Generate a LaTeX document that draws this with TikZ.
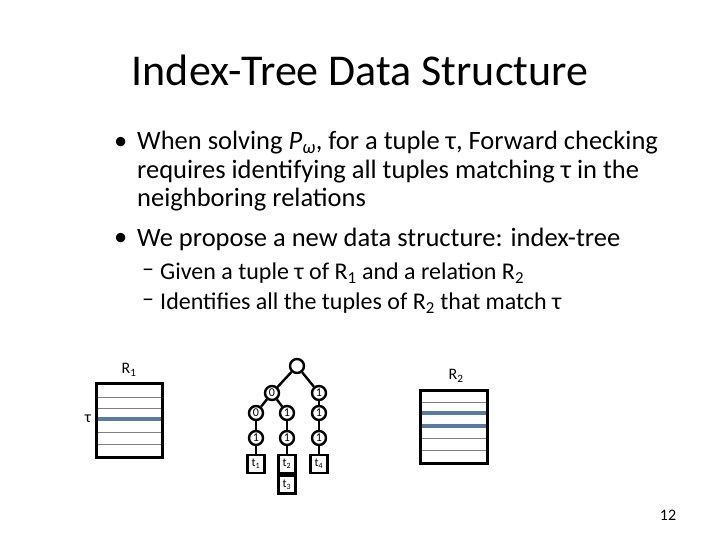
\documentclass[tikz,border=0pt]{standalone}
\usepackage{fontspec}
\setmainfont{Carlito}
\usetikzlibrary{positioning}
\definecolor{rowblue}{RGB}{91,122,160}
\tikzset{
  trie/.style={draw,circle,line width=2.4pt,inner sep=0pt,minimum size=14pt,font=\fontsize{12}{12}\selectfont},
  leaf/.style={draw,rectangle,line width=2.4pt,inner sep=0pt,minimum width=17pt,minimum height=18pt,font=\fontsize{12}{12}\selectfont},
  line/.style={anchor=west,inner sep=0pt,font=\fontsize{26.5}{28}\selectfont},
  subline/.style={anchor=west,inner sep=0pt,font=\fontsize{24}{24}\selectfont},
}
\begin{document}
\begin{tikzpicture}[x=1pt,y=-1pt]
  \useasboundingbox (0,0) rectangle (720,540);
  \node[font=\fontsize{44}{46}\selectfont] (title) at (360,70) {Index-Tree Data Structure};

  % bullets
  \node[line] (m1) at (114,143) {\textbullet};
  \node[line] (b1) at (137,143) {When solving \textit{P}\textsubscript{\textit{ω}}, for a tuple τ, Forward checking};
  \node[line] (b1b) at (137,172) {requires identifying all tuples matching τ in the};
  \node[line] (b1c) at (137,200) {neighboring relations};
  \node[line] (m2) at (114,239) {\textbullet};
  \node[line] (b2) at (137,239) {We propose a new data structure: index-tree};
  \node[subline] (d1) at (142,273) {–};
  \node[subline] (s1) at (160,273) {Given a tuple τ of R\textsubscript{1} and a relation R\textsubscript{2}};
  \node[subline] (d2) at (142,303) {–};
  \node[subline] (s2) at (160,303) {Identifies all the tuples of R\textsubscript{2} that match τ};

  % relation R1
  \foreach \y in {397,408,432,444} \draw[gray,thin] (96,\y) -- (162,\y);
  \draw[rowblue,line width=3.5pt] (96,419) -- (162,419);
  \draw[line width=3pt] (96,383) rectangle (162,457);
  \node[font=\fontsize{16}{16}\selectfont] (r1) at (129,370) {R\textsubscript{1}};
  \node[font=\fontsize{16}{16}\selectfont] (tau) at (88,419) {τ};

  % relation R2
  \foreach \y in {402,438,450} \draw[gray,thin] (420,\y) -- (487,\y);
  \foreach \y in {413,426} \draw[rowblue,line width=3.5pt] (420,\y) -- (487,\y);
  \draw[line width=3pt] (420,390) rectangle (487,463);
  \node[font=\fontsize{16}{16}\selectfont] (r2) at (456,376) {R\textsubscript{2}};

  % index tree
  \node[trie] (root) at (297,366) {};
  \node[trie] (n0) at (272,393) {0};
  \node[trie] (n1) at (319,393) {1};
  \node[trie] (n00) at (256,413) {0};
  \node[trie] (n01) at (287,413) {1};
  \node[trie] (n11) at (319,413) {1};
  \node[trie] (n001) at (256,438) {1};
  \node[trie] (n011) at (287,438) {1};
  \node[trie] (n111) at (319,438) {1};
  \node[leaf] (t1) at (256,464) {t\textsubscript{1}};
  \node[leaf] (t2) at (287,464) {t\textsubscript{2}};
  \node[leaf,below=0pt of t2] (t3) {t\textsubscript{3}};
  \node[leaf] (t4) at (319,464) {t\textsubscript{4}};
  \foreach \a/\b in {root/n0,root/n1,n0/n00,n0/n01,n1/n11,n00/n001,n01/n011,n11/n111,n001/t1,n011/t2,n111/t4}
    \draw[line width=2.4pt] (\a) -- (\b);

  \node[font=\fontsize{16}{16}\selectfont] (page) at (668,515) {12};
\end{tikzpicture}
\end{document}
